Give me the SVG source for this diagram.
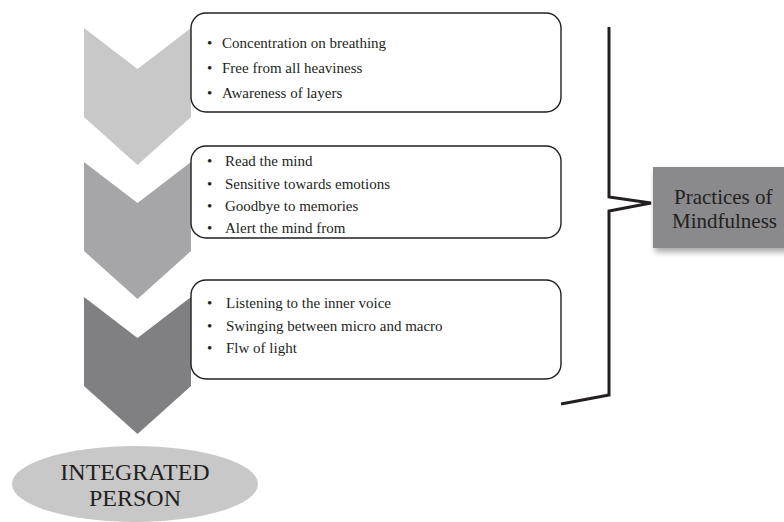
<svg xmlns="http://www.w3.org/2000/svg" width="784" height="522" viewBox="0 0 784 522">
<defs>
<style>
.box{fill:#fff;stroke:#231f20;stroke-width:1.4}
.t{font-family:"Liberation Serif","Times New Roman",serif;font-size:15px;fill:#231f20}
.big{font-family:"Liberation Serif","Times New Roman",serif;fill:#231f20}
.br{fill:none;stroke:#231f20;stroke-width:3;stroke-linejoin:miter}
</style>
<filter id="sh" x="-20%" y="-20%" width="150%" height="160%">
<feGaussianBlur in="SourceAlpha" stdDeviation="3"/>
<feOffset dx="2" dy="4"/>
<feComponentTransfer><feFuncA type="linear" slope="0.35"/></feComponentTransfer>
<feMerge><feMergeNode/><feMergeNode in="SourceGraphic"/></feMerge>
</filter>
</defs>
<rect width="784" height="522" fill="#fff"/>
<g id="chevron1"><polygon points="84,28 137.5,69 191,28 191,117 137.5,165 84,117" fill="#c8c8c9"/></g>
<g id="chevron2"><polygon points="84,162 137.5,203 191,162 191,251 137.5,299 84,251" fill="#a6a6a8"/></g>
<g id="chevron3"><polygon points="84,297 137.5,338 191,297 191,386 137.5,434 84,386" fill="#808082"/></g>
<g id="box1">
<rect class="box" x="191" y="13" width="370" height="99" rx="15"/>
<text class="t" x="207" y="48">•</text><text class="t" x="222" y="48">Concentration on breathing</text>
<text class="t" x="207" y="73">•</text><text class="t" x="222" y="73">Free from all heaviness</text>
<text class="t" x="207" y="98">•</text><text class="t" x="222" y="98">Awareness of layers</text>
</g>
<g id="box2">
<rect class="box" x="191" y="146" width="370" height="92" rx="15"/>
<text class="t" x="207" y="166">•</text><text class="t" x="225" y="166">Read the mind</text>
<text class="t" x="207" y="189">•</text><text class="t" x="225" y="189">Sensitive towards emotions</text>
<text class="t" x="207" y="211">•</text><text class="t" x="225" y="211">Goodbye to memories</text>
<text class="t" x="207" y="233">•</text><text class="t" x="225" y="233">Alert the mind from</text>
</g>
<g id="box3">
<rect class="box" x="191" y="280" width="370" height="99" rx="15"/>
<text class="t" x="207" y="308">•</text><text class="t" x="226" y="308">Listening to the inner voice</text>
<text class="t" x="207" y="331">•</text><text class="t" x="226" y="331">Swinging between micro and macro</text>
<text class="t" x="207" y="353">•</text><text class="t" x="226" y="353">Flw of light</text>
</g>
<g id="connectors">
<polyline class="br" points="609,27 609,197 651,203 609,211 609,395 561,404"/>
</g>
<g id="practices">
<rect x="653" y="167" width="140" height="81" fill="#8a8a8c" filter="url(#sh)"/>
<text class="big" font-size="21" x="674" y="204">Practices of</text>
<text class="big" font-size="21" x="672" y="228">Mindfulness</text>
</g>
<g id="integrated">
<ellipse cx="135" cy="484" rx="123" ry="38" fill="#c8c8c9"/>
<text class="big" font-size="24" x="135" y="480" text-anchor="middle">INTEGRATED</text>
<text class="big" font-size="24" x="135" y="506" text-anchor="middle">PERSON</text>
</g>
</svg>
